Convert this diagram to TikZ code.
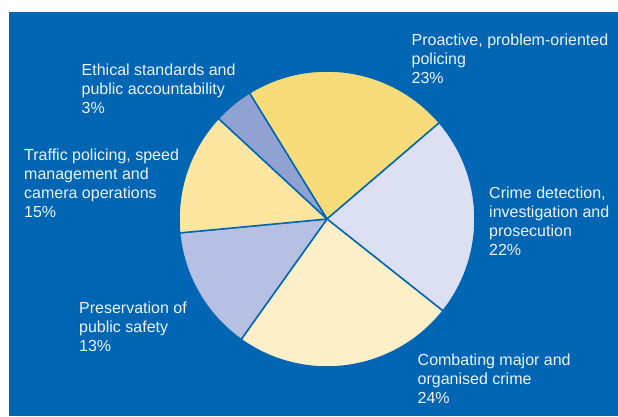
\documentclass[tikz,border=0pt]{standalone}
\usepackage{fontspec}
\setmainfont{Liberation Sans}
\definecolor{bg}{HTML}{0066B3}
\definecolor{txt}{HTML}{EEF2FA}
\definecolor{cproact}{RGB}{248,220,122}
\definecolor{ccrime}{RGB}{221,224,242}
\definecolor{ccomb}{RGB}{253,240,200}
\definecolor{cpres}{RGB}{182,192,226}
\definecolor{ctraf}{RGB}{252,230,160}
\definecolor{ceth}{RGB}{143,162,210}
\tikzset{
  slice/.style={draw=bg, line width=1.5pt, line join=round},
  lbl/.style={anchor=base west, align=left, inner sep=0pt, text=txt,
    font=\fontsize{16}{18.8}\selectfont}
}
\newcommand\pieslice[3]{\filldraw[slice, fill=#3] (c) -- ++(#1:148) arc[start angle=#1, end angle=#2, radius=148] -- cycle;}
\begin{document}
\begin{tikzpicture}[x=1pt,y=1pt]
\useasboundingbox (0,0) rectangle (618,416);
\fill[white] (0,0) rectangle (618,416);
\fill[bg] (9,0) rectangle (618,404);
\coordinate (c) at (327,197);
\pieslice{40.6}{121.6}{cproact}
\pieslice{-38.4}{40.6}{ccrime}
\pieslice{-125.5}{-38.4}{ccomb}
\pieslice{185.4}{234.5}{cpres}
\pieslice{137.2}{185.4}{ctraf}
\pieslice{121.6}{137.2}{ceth}
\node[lbl] (eth) at (81.5,303) {Ethical standards and\\public accountability\\3\%};
\node[lbl] (pro) at (411.5,332.7) {Proactive, problem-oriented\\policing\\23\%};
\node[lbl] (cri) at (489,161) {Crime detection,\\investigation and\\prosecution\\22\%};
\node[lbl] (tra) at (24,199) {Traffic policing, speed\\management and\\camera operations\\15\%};
\node[lbl] (pre) at (79,65) {Preservation of\\public safety\\13\%};
\node[lbl] (com) at (417.5,13) {Combating major and\\organised crime\\24\%};
\end{tikzpicture}
\end{document}
